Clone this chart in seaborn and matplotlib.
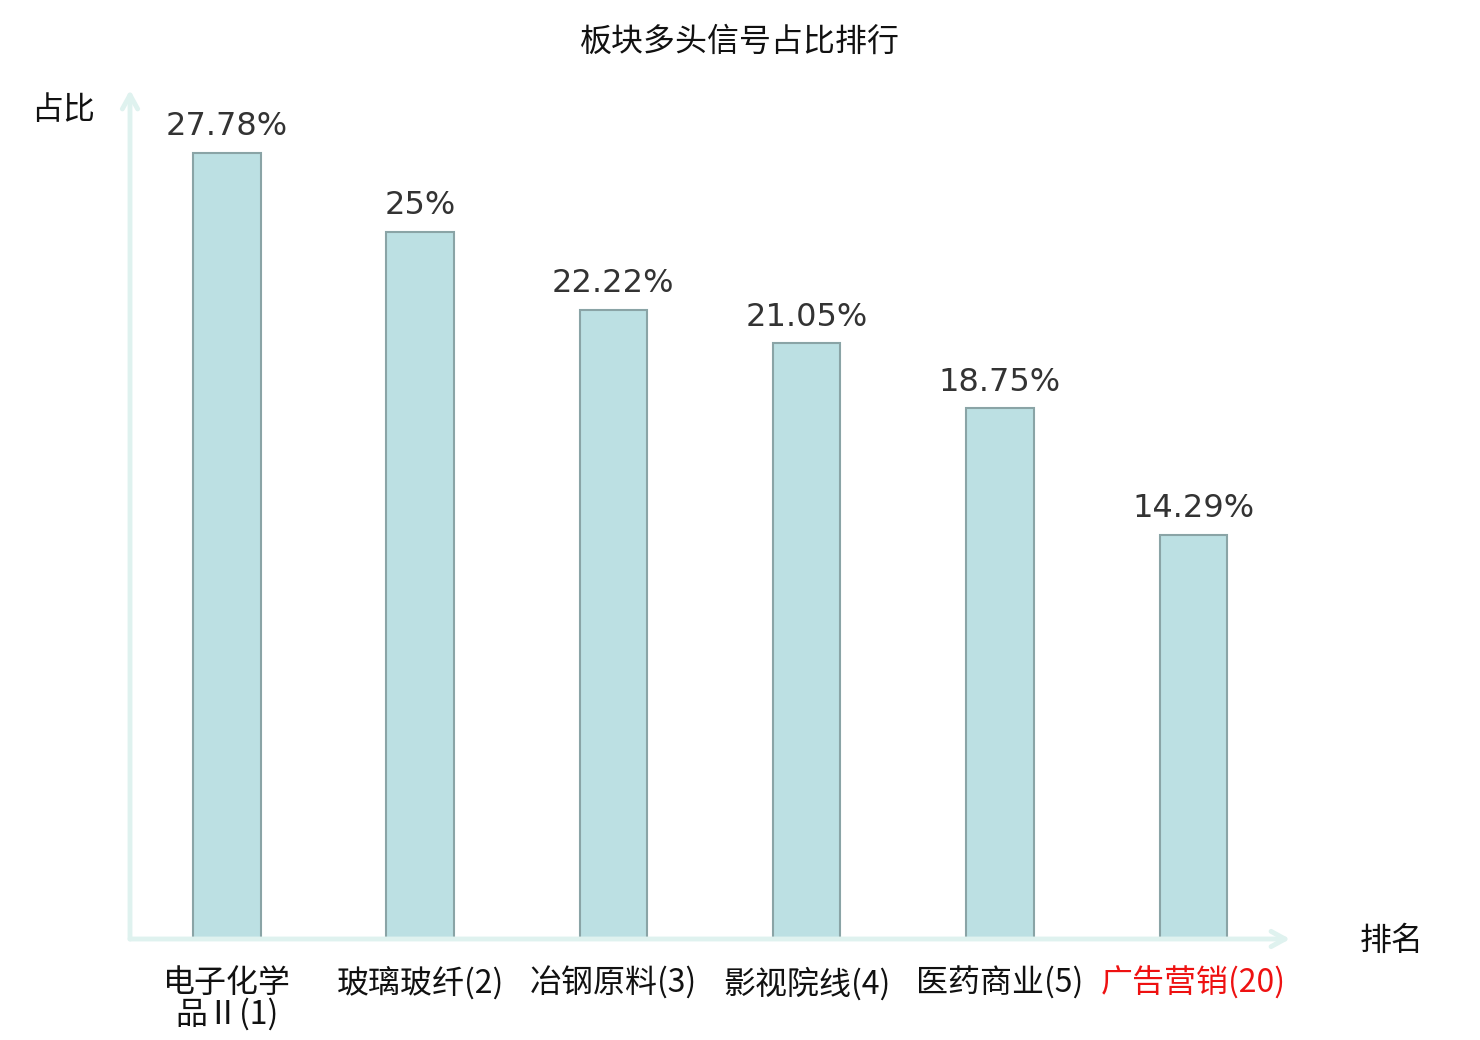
"""
Bar chart of sector bullish-signal share ranking.
"""
import matplotlib
matplotlib.use("Agg")
import matplotlib.pyplot as plt
import pandas as pd
import seaborn as sns

# chart data
sectors = ["电子化学\n品Ⅱ(1)", "玻璃玻纤(2)", "冶钢原料(3)", "影视院线(4)", "医药商业(5)", "广告营销(20)"]
shares = [27.78, 25.0, 22.22, 21.05, 18.75, 14.29]
share_labels = ["27.78%", "25%", "22.22%", "21.05%", "18.75%", "14.29%"]
label_colors = ["#111111", "#111111", "#111111", "#111111", "#111111", "#ee1111"]

sns.set_style("white")
plt.rcParams["font.family"] = ["Noto Sans CJK SC", "DejaVu Sans"]

df = pd.DataFrame({"sector": sectors, "share": shares})

fig = plt.figure(figsize=(14.8, 10.4), dpi=100)
ax = fig.add_axes([130 / 1480, 101 / 1040, 1160 / 1480, 849 / 1040])

sns.barplot(data=df, x="sector", y="share", ax=ax, color="#bce0e3",
            saturation=1, width=0.35, edgecolor="#8aa4a6", linewidth=1.5)

ax.set_xlim(-0.5, 5.5)
ax.set_ylim(0, 30)
ax.set_xlabel("")
ax.set_ylabel("")
ax.set_yticks([])
for side in ax.spines.values():
    side.set_visible(False)

# value labels over the bars
for i, (v, txt) in enumerate(zip(shares, share_labels)):
    ax.text(i, v + 0.38, txt, ha="center", va="bottom", fontsize=23,
            color="#333333", family=["DejaVu Sans"])

ax.tick_params(axis="x", length=0, pad=20)
ax.set_xticks(range(len(sectors)))
ax.set_xticklabels(sectors, fontsize=23, linespacing=0.98, va="top")
for tick, c in zip(ax.get_xticklabels(), label_colors):
    tick.set_color(c)

# axis arrows
axis_color = "#dff2ef"
ax.annotate("", xy=(1.0, 0), xytext=(0, 0), xycoords="axes fraction",
            arrowprops=dict(arrowstyle="->,head_length=1.0,head_width=0.55",
                            color=axis_color, lw=3.5, shrinkA=0, shrinkB=0),
            annotation_clip=False)
ax.annotate("", xy=(0, 1.0), xytext=(0, 0), xycoords="axes fraction",
            arrowprops=dict(arrowstyle="->,head_length=1.0,head_width=0.55",
                            color=axis_color, lw=3.5, shrinkA=0, shrinkB=0),
            annotation_clip=False)

fig.text(63 / 1480, 1 - 110 / 1040, "占比", ha="center", va="center", fontsize=23, color="#111111")
fig.text(1392 / 1480, 1 - 941 / 1040, "排名", ha="center", va="center", fontsize=23, color="#111111")
fig.text(740 / 1480, 1 - 42 / 1040, "板块多头信号占比排行", ha="center", va="center",
         fontsize=23, color="#111111")

fig.savefig("out.png", dpi=100, facecolor="white")
